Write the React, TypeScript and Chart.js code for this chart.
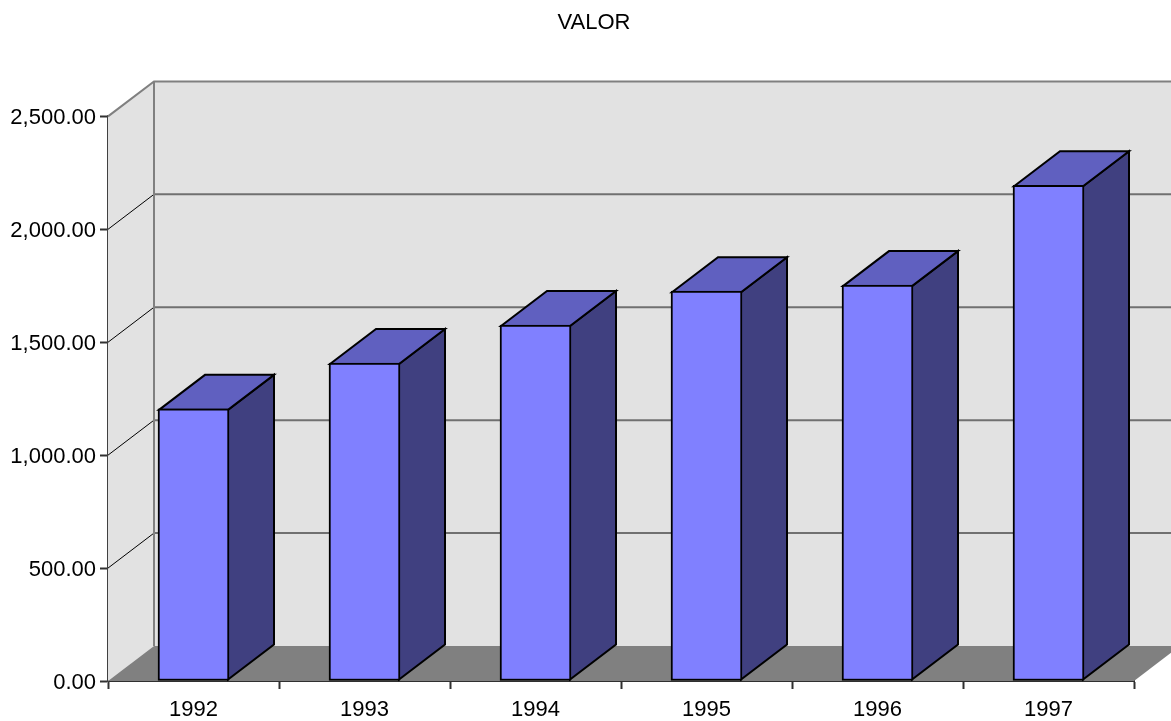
import React, { useEffect, useRef } from "react";
import { Chart, registerables } from "chart.js";

Chart.register(...registerables);

const categories = ["1992", "1993", "1994", "1995", "1996", "1997"];
const valor = [1205, 1408, 1576, 1726, 1753, 2195];
const yTicks = [0, 500, 1000, 1500, 2000, 2500];

const DX = 46;
const DY = 35;
const FONT = "'Liberation Sans', Arial, sans-serif";

const box3d = {
  id: "box3d",
  afterLayout(chart: any) {
    // the title sits centred over the wall area rather than the whole canvas
    if (chart.titleBlock) chart.titleBlock.left = 54;
  },
  beforeDatasetsDraw(chart: any) {
    const { ctx, chartArea: a, scales } = chart;
    const y = scales.y;
    const bottom = y.getPixelForValue(0);
    const top = y.getPixelForValue(2500);
    ctx.save();
    ctx.lineCap = "butt";
    // back wall
    ctx.fillStyle = "#E2E2E2";
    ctx.fillRect(a.left + DX, top - DY, a.right - a.left, bottom - top);
    // left wall
    ctx.beginPath();
    ctx.moveTo(a.left, top);
    ctx.lineTo(a.left + DX, top - DY);
    ctx.lineTo(a.left + DX, bottom - DY);
    ctx.lineTo(a.left, bottom);
    ctx.closePath();
    ctx.fill();
    // floor
    ctx.fillStyle = "#808080";
    ctx.beginPath();
    ctx.moveTo(a.left, bottom);
    ctx.lineTo(a.left + DX, bottom - DY);
    ctx.lineTo(a.right + DX, bottom - DY);
    ctx.lineTo(a.right, bottom);
    ctx.closePath();
    ctx.fill();
    // grid lines
    for (const t of yTicks) {
      if (t === 0 || t === 2500) continue;
      const py = y.getPixelForValue(t);
      ctx.strokeStyle = "#000000";
      ctx.lineWidth = 1;
      ctx.beginPath();
      ctx.moveTo(a.left, py);
      ctx.lineTo(a.left + DX, py - DY);
      ctx.stroke();
      ctx.strokeStyle = "#707070";
      ctx.lineWidth = 2;
      ctx.beginPath();
      ctx.moveTo(a.left + DX, py - DY);
      ctx.lineTo(a.right + DX, py - DY);
      ctx.stroke();
    }
    // wall outlines
    ctx.strokeStyle = "#808080";
    ctx.lineWidth = 2;
    ctx.beginPath();
    ctx.moveTo(a.left, top);
    ctx.lineTo(a.left + DX, top - DY);
    ctx.lineTo(a.right + DX, top - DY);
    ctx.moveTo(a.left + DX, top - DY);
    ctx.lineTo(a.left + DX, bottom - DY);
    ctx.stroke();
    // bar depth faces
    const meta = chart.getDatasetMeta(0);
    ctx.lineWidth = 2;
    ctx.strokeStyle = "#000000";
    ctx.lineJoin = "miter";
    meta.data.forEach((bar: any) => {
      const p = bar.getProps(["x", "y", "base", "width"], true);
      const l = p.x - p.width / 2 + 1;
      const r = p.x + p.width / 2 - 1;
      const t = p.y + 1;
      const b = p.base - 1;
      ctx.fillStyle = "#404080";
      ctx.beginPath();
      ctx.moveTo(r, t);
      ctx.lineTo(r + DX, t - DY);
      ctx.lineTo(r + DX, b - DY);
      ctx.lineTo(r, b);
      ctx.closePath();
      ctx.fill();
      ctx.stroke();
      ctx.fillStyle = "#6060C0";
      ctx.beginPath();
      ctx.moveTo(l, t);
      ctx.lineTo(l + DX, t - DY);
      ctx.lineTo(r + DX, t - DY);
      ctx.lineTo(r, t);
      ctx.closePath();
      ctx.fill();
      ctx.stroke();
    });
    ctx.restore();
  },
};

export default function App() {
  const ref = useRef<HTMLCanvasElement>(null);
  useEffect(() => {
    const canvas = ref.current as HTMLCanvasElement;
    const c2d = canvas.getContext("2d") as any;
    c2d.fontKerning = "none";
    const chart = new Chart(canvas, {
      type: "bar",
      data: {
        labels: categories,
        datasets: [
          {
            label: "VALOR",
            data: valor,
            backgroundColor: "#8080FF",
            borderColor: "#000000",
            borderWidth: 2,
            borderSkipped: false,
            barThickness: 71,
          },
        ],
      },
      options: {
        responsive: false,
        animation: false,
        layout: { padding: { left: 0, right: 37, top: 0, bottom: 0 } },
        plugins: {
          legend: { display: false },
          tooltip: { enabled: false },
          title: {
            display: true,
            text: "VALOR",
            color: "#000000",
            font: { family: FONT, size: 22, weight: "normal", lineHeight: 1.2 },
            padding: { top: 10, bottom: 80 },
          },
        },
        scales: {
          x: {
            offset: true,
            afterFit(s: any) {
              s.height = 40;
            },
            grid: {
              drawOnChartArea: false,
              drawTicks: true,
              tickLength: 8,
              tickWidth: 2,
              tickColor: "#303030",
              offset: true,
            },
            border: { color: "#303030", width: 2 },
            ticks: {
              color: "#000000",
              font: { family: FONT, size: 22 },
              padding: 8,
              maxRotation: 0,
            },
          },
          y: {
            min: 0,
            max: 2500,
            afterFit(s: any) {
              s.width = 108;
            },
            afterBuildTicks(s: any) {
              s.ticks = yTicks.map((value) => ({ value }));
            },
            grid: {
              drawOnChartArea: false,
              drawTicks: true,
              tickLength: 8,
              tickWidth: 2,
              tickColor: "#303030",
            },
            border: { color: "#404040", width: 2 },
            ticks: {
              color: "#000000",
              font: { family: FONT, size: 22 },
              padding: 4,
              labelOffset: 2,
              callback: (v: any) =>
                Number(v).toLocaleString("en-US", {
                  minimumFractionDigits: 2,
                  maximumFractionDigits: 2,
                }),
            },
          },
        },
      },
      plugins: [box3d],
    } as any);
    return () => chart.destroy();
  }, []);
  return (
    <div style={{ position: "fixed", left: 0, top: 0, width: 1171, height: 721, background: "#fff" }}>
      <canvas ref={ref} width={1171} height={721} style={{ display: "block" }} />
    </div>
  );
}
